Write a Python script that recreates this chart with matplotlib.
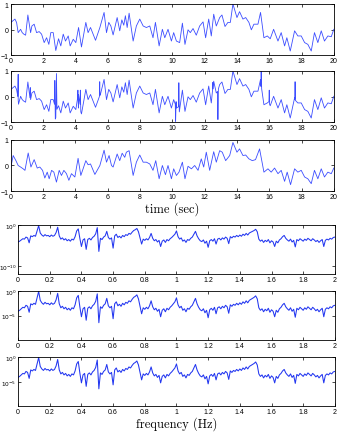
import numpy as np
import matplotlib
matplotlib.use("Agg")
import matplotlib.pyplot as plt

# ---------------- data ----------------
# panel 1: clean signal (local extrema, seconds / amplitude)
t_clean = [0, 0.25, 0.35, 0.45, 0.6, 0.7, 0.8, 0.91, 1.05, 1.22, 1.3, 1.44, 1.59, 1.75, 1.9,
           2.06, 2.21, 2.35, 2.47, 2.62, 2.78, 2.95, 3.09, 3.24, 3.38, 3.55, 3.67, 3.86, 4.02,
           4.19, 4.37, 4.64, 4.78, 4.93, 5.24, 5.51, 5.77, 5.92, 6.06, 6.19, 6.33, 6.58, 6.74,
           6.87, 6.99, 7.09, 7.2, 7.32, 7.57, 7.77, 7.98, 8.19, 8.39, 8.6, 8.8, 8.95, 9.18, 9.38,
           9.53, 9.73, 9.94, 10.08, 10.25, 10.45, 10.62, 10.78, 10.97, 11.11, 11.28, 11.48, 11.69,
           11.9, 12.06, 12.25, 12.41, 12.56, 12.72, 12.93, 13.07, 13.26, 13.44, 13.59, 13.75, 14.0,
           14.16, 14.37, 14.54, 14.74, 14.89, 15.05, 15.3, 15.46, 15.67, 15.88, 16.06, 16.27, 16.54,
           16.74, 16.95, 17.09, 17.3, 17.57, 17.77, 17.98, 18.19, 18.39, 18.6, 18.8, 19.01, 19.22,
           19.42, 19.63, 19.84, 20]
v_clean = [0.28, 0.41, 0.28, -0.12, 0.01, -0.12, -0.18, -0.22, 0.57, -0.12, 0.14, 0.21, -0.12, -0.08, -0.18,
           -0.51, -0.32, -0.58, -0.12, -0.12, -0.82, -0.36, -0.64, -0.18, -0.45, -0.25, -0.64, -0.38, -0.51,
           0.08, -0.68, 0.28, -0.12, 0.08, -0.42, 0.08, 0.67, -0.12, 0.28, 0.14, -0.21, 0.47, -0.05,
           0.38, 0.17, 0.54, 0.08, 0.64, -0.45, 0.14, 0.41, 0.14, 0.08, 0.14, -0.32, 0.28, -0.64, 0.01,
           -0.32, 0.01, -0.45, -0.12, -0.45, -0.51, 0.25, -0.58, -0.01, -0.12, 0.04, -0.22, 0.14,
           0.30, -0.32, 0.41, -0.25, 0.60, 0.14, 0.47, 0.57, 0.12, 0.28, 0.28, 1.0, 0.47,
           0.70, 0.41, 0.47, 0.28, -0.01, 0.21, 0.21, 0.67, -0.32, -0.25, -0.36, 0.01, -0.45,
           -0.12, -0.64, -0.32, -0.84, -0.05, -0.25, -0.25, -0.51, -0.58, -0.84, -0.12, -0.51, -0.05,
           -0.45, -0.25, -0.28, 0.01]

# panel 2: impulsive spikes riding on the clean signal
t_spike = [0.0, 0.43, 0.45, 0.47, 1.18, 1.2, 1.22, 2.70, 2.72, 2.75, 2.82, 2.85,
           4.12, 4.15, 4.18, 4.28, 4.3, 4.33, 5.48, 5.5, 5.53, 10.18, 10.2, 10.23,
           10.38, 10.4, 10.43, 12.48, 12.5, 12.53, 12.8, 12.82, 12.85, 15.48, 15.5, 15.53,
           15.98, 16.0, 16.02, 17.58, 17.6, 17.62]
v_spike = [-0.45, 0.0, 0.87, -0.3, -0.05, 0.35, -0.12, -0.3, 0.63, -0.88, 0.9, -0.5,
           -0.1, 0.25, -0.45, -0.3, 0.25, -0.6, 0.0, 0.58, 0.05, -0.3, -0.97, -0.2,
           -0.4, 0.54, -0.6, 0.2, 0.55, 0.3, 0.2, -0.9, 0.3, 0.4, 1.0, 0.3,
           -0.2, 0.25, -0.3, -0.1, 0.58, -0.15]

# panel 3: estimated (denoised) signal
t_est = [0, 0.14, 0.31, 0.45, 0.6, 0.76, 0.87, 1.07, 1.24, 1.44, 1.63, 1.79, 1.96, 2.1, 2.25, 2.37,
         2.52, 2.66, 2.82, 2.99, 3.13, 3.28, 3.44, 3.59, 3.75, 3.96, 4.16, 4.33, 4.47, 4.64, 4.78,
         4.93, 5.2, 5.51, 5.77, 5.92, 6.08, 6.23, 6.33, 6.58, 6.74, 6.89, 7.05, 7.15, 7.32, 7.57,
         7.77, 7.98, 8.19, 8.39, 8.6, 8.8, 8.97, 9.18, 9.38, 9.57, 9.73, 9.94, 10.08, 10.25, 10.41,
         10.62, 10.78, 10.97, 11.18, 11.38, 11.59, 11.79, 11.94, 12.1, 12.31, 12.56, 12.72, 12.93,
         13.09, 13.3, 13.55, 13.75, 14.0, 14.16, 14.37, 14.54, 14.74, 14.95, 15.15, 15.4, 15.67,
         15.92, 16.12, 16.33, 16.54, 16.74, 16.95, 17.11, 17.32, 17.57, 17.77, 17.98, 18.19, 18.39,
         18.6, 18.8, 19.01, 19.22, 19.42, 19.63, 19.84, 20]
v_est = [-0.06, 0.39, 0.19, 0.0, -0.06, -0.13, -0.19, 0.49, -0.06, 0.23, -0.1, -0.06, -0.19, -0.49, -0.26, -0.52,
         -0.19, -0.26, -0.65, -0.19, -0.39, -0.19, -0.32, -0.58, -0.32, -0.45, 0.28, -0.39, -0.13, 0.19, 0.03,
         0.06, -0.35, 0.0, 0.6, 0.13, 0.39, 0.0, -0.06, 0.45, 0.19, 0.48, 0.32, 0.52, 0.58, -0.39,
         0.13, 0.41, 0.13, 0.13, 0.06, -0.19, 0.19, -0.52, 0.0, -0.36, 0.0, -0.52, -0.13, -0.39, -0.26,
         0.13, -0.52, -0.03, -0.13, 0.0, -0.19, 0.26, -0.06, 0.52, -0.19, 0.54, 0.13, 0.58,
         0.52, 0.19, 0.39, 0.9, 0.52, 0.65, 0.39, 0.41, 0.26, 0.19, 0.23, 0.65, -0.26,
         -0.13, -0.26, -0.1, -0.32, -0.19, -0.62, -0.26, -0.75, -0.13, -0.26, -0.19, -0.45, -0.52,
         -0.71, -0.19, -0.52, -0.13, -0.45, -0.26, -0.32, -0.1]

# spectra: log10 power on a 0.01 Hz grid from 0 to 2 Hz
log_psd = [
    -4.1, -3.9, -3.6, -3.3, -3.4, -2.9, -3.1, -4.3, -2.6, -2.8,
    -2.5, -2.7, -1.4, -0.1, -1.9, -2.4, -2.7, -2.3, -2.6, -2.5,
    -2.8, -2.4, -2.7, -2.5, -1.8, -0.5, -2.6, -3.4, -3.1, -3.6,
    -3.3, -3.8, -3.5, -3.9, -3.4, -3.6, -2.8, -1.4, -0.9, -3.2,
    -5.2, -3.6, -3.3, -5.9, -3.5, -3.2, -3.6, -3.0, -2.7, -2.1,
    -0.6, -6.4, -3.2, -3.5, -2.9, -2.6, -1.5, -3.0, -3.4, -3.1,
    -5.6, -2.6, -2.2, -3.0, -2.7, -3.1, -2.5, -2.8, -2.3, -2.5,
    -2.0, -2.2, -1.7, -1.3, -1.1, -0.8, -1.6, -3.1, -4.6, -3.4,
    -3.7, -3.3, -3.6, -3.0, -2.0, -3.2, -3.8, -3.5, -4.1, -3.7,
    -5.2, -3.9, -3.6, -4.2, -3.5, -3.8, -3.3, -3.0, -2.6, -2.2,
    -1.4, -2.8, -3.4, -3.1, -3.9, -3.6, -4.2, -3.5, -3.7, -3.2,
    -2.9, -2.2, -1.5, -2.6, -3.3, -3.8, -4.0, -3.6, -4.4, -3.9,
    -5.4, -3.8, -3.5, -3.9, -3.3, -4.6, -3.4, -3.2, -3.6, -3.1,
    -3.4, -2.9, -3.2, -4.5, -2.8, -3.1, -2.7, -2.9, -2.5, -2.8,
    -2.4, -2.7, -2.2, -2.5, -2.0, -2.4, -1.9, -1.7, -1.5, -1.3,
    -1.0, -1.6, -3.4, -3.9, -3.6, -4.2, -3.7, -4.0, -3.5, -4.3,
    -3.8, -4.1, -5.2, -3.9, -4.3, -3.6, -3.3, -2.8, -2.5, -3.2,
    -3.6, -3.9, -3.4, -4.1, -3.7, -5.3, -3.5, -3.8, -3.3, -3.6,
    -3.9, -3.4, -3.7, -3.2, -3.5, -3.8, -3.3, -3.6, -4.0, -3.7,
    -4.2, -3.8, -3.5, -5.2, -3.7, -3.4, -3.6, -3.2, -3.4, -3.0,
    -2.9]

time_ticks = [0, 2, 4, 6, 8, 10, 12, 14, 16, 18, 20]
freq_ticks = [0, 0.2, 0.4, 0.6, 0.8, 1, 1.2, 1.4, 1.6, 1.8, 2]
freq_labels = ["0", "0.2", "0.4", "0.6", "0.8", "1", "1.2", "1.4", "1.6", "1.8", "2"]

# ---------------- figure ----------------
plt.rcParams["font.family"] = ["Liberation Sans", "DejaVu Sans"]
fig = plt.figure(figsize=(3.41, 4.35), dpi=100)

line_col = "#3c4dff"
spec_col = "#2236f0"


def style(ax):
    ax.tick_params(direction="in", length=2.5, width=0.5, top=True, right=True,
                   labelsize=5, pad=1.5, colors="black")
    ax.minorticks_off()
    for s in ax.spines.values():
        s.set_linewidth(0.6)


# time panels
t2 = np.array(t_spike + t_clean)
v2 = np.array(v_spike + v_clean)
order = np.argsort(t2, kind="stable")
series = [(t_clean, v_clean), (t2[order], v2[order]), (t_est, v_est)]
tops = [0.9885, 0.8345, 0.676]
for i, (tt, vv) in enumerate(series):
    h = 0.1175
    ax = fig.add_axes([0.032, tops[i] - h, 0.947, h])
    ax.plot(tt, vv, color=line_col, lw=0.6)
    ax.set_xlim(0, 20)
    ax.set_ylim(-1, 1)
    ax.set_xticks(time_ticks)
    ax.set_yticks([-1, 0, 1])
    style(ax)
    if i == 2:
        ax.set_xlabel("time (sec)", fontfamily="cmr10", fontsize=9, labelpad=1)

# spectrum panels
freqs = np.linspace(0, 2, len(log_psd))
psd = 10.0 ** np.array(log_psd)
stops = [0.480, 0.329, 0.177]
for i in range(3):
    h = 0.113
    ax = fig.add_axes([0.053, stops[i] - h, 0.929, h])
    ax.semilogy(freqs, psd, color=spec_col, lw=0.75)
    ax.set_xlim(0, 2)
    if i == 0:
        ax.set_ylim(1e-12, 1)
        ax.set_yticks([1e-10, 1])
        ax.set_yticklabels([r"$10^{-10}$", r"$10^{0}$"])
    else:
        ax.set_ylim(1.3e-10, 1)
        ax.set_yticks([1e-5, 1])
        ax.set_yticklabels([r"$10^{-5}$", r"$10^{0}$"])
    ax.set_xticks(freq_ticks)
    ax.set_xticklabels(freq_labels)
    style(ax)
    ax.tick_params(axis="y", labelsize=4.2, pad=1)

fig.axes[-1].set_xlabel("frequency (Hz)", fontfamily="cmr10", fontsize=9, labelpad=1)

fig.savefig("out.png", dpi=100)
